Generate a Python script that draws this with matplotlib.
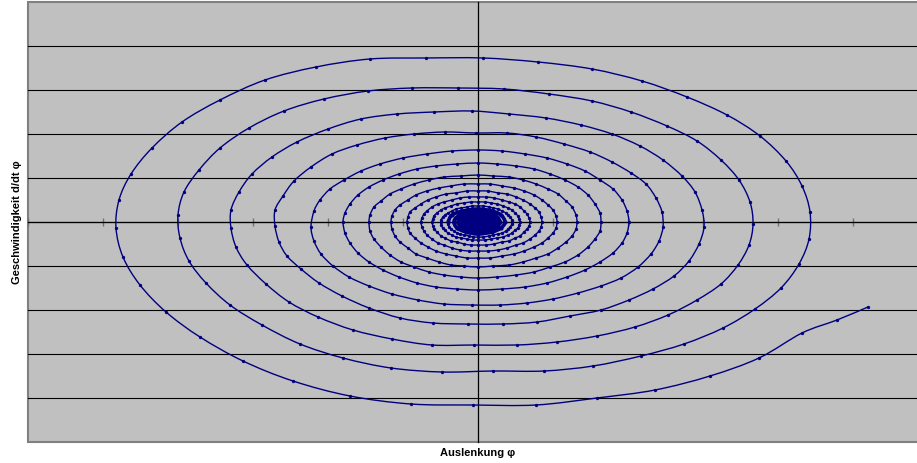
import matplotlib
matplotlib.use("Agg")
import matplotlib.pyplot as plt
from matplotlib.path import Path
from matplotlib.patches import PathPatch
import numpy as np

# Phase portrait of a damped pendulum: deflection (phi) vs. angular velocity (omega)
# Values (arbitrary chart units, one x tick = 75, one y grid step = 44)

turn0_phi = [390, 359, 324, 281, 232, 177, 119, 58, -5, -67, -128, -185, -235, -278, -312, -338, -355, -362]
turn0_om = [-85, -98, -111, -136, -154, -168, -176, -183, -183, -182, -174, -159, -139, -115, -90, -63, -35, -6]

turn1_phi = [-359, -347, -326, -296, -258, -213, -162, -108, -52, 5, 60, 114, 164, 209, 249, 282, 308, 324, 332, 331,
             321, 303, 277, 245, 206, 163, 115, 66, 15, -36, -87, -135, -178, -216, -248, -272, -289, -298]
turn1_om = [22, 48, 74, 100, 122, 142, 155, 163, 164, 164, 160, 153, 141, 125, 107, 86, 61, 36, 10, -17,
            -42, -66, -87, -106, -122, -134, -144, -149, -149, -150, -146, -136, -122, -103, -83, -61, -39, -16]

turn2_phi = [-300, -294, -279, -258, -229, -194, -154, -110, -66, -20, 26, 71, 114, 153, 189, 219, 243, 261, 272, 275,
             271, 260, 243, 219, 190, 157, 119, 79, 39, -4, -46, -86, -125, -160, -189, -212, -231, -242, -247]
turn2_om = [7, 30, 52, 74, 94, 111, 123, 131, 134, 134, 133, 128, 121, 110, 96, 81, 62, 42, 20, -2,
            -23, -43, -62, -78, -93, -105, -114, -120, -123, -123, -123, -117, -108, -95, -80, -62, -43, -25, -6]

turn3_phi = [-247, -239, -226, -206, -181, -150, -117, -81, -44, -6, 31, 68, 103, 134, 162, 185, 204, 217, 224, 226,
             221, 211, 196, 175, 151, 123, 92, 59, 25, -10, -45, -78, -109, -136, -159, -177, -191, -199, -203]
turn3_om = [12, 30, 48, 65, 80, 93, 103, 108, 110, 111, 108, 104, 97, 88, 76, 62, 46, 30, 12, -5,
            -22, -39, -54, -67, -78, -88, -94, -100, -102, -102, -101, -96, -86, -74, -61, -47, -34, -20, -4]

turn4_phi = [-203, -195, -184, -167, -146, -121, -93, -64, -33, -2, 29, 58, 86, 112, 134, 153, 168, 178, 184, 185,
             181, 173, 160, 143, 123, 100, 75, 49, 22, -6, -34, -60, -86, -109, -129, -145, -157, -164, -167]
turn4_om = [12, 26, 41, 55, 68, 77, 84, 88, 90, 89, 89, 85, 78, 70, 60, 49, 38, 24, 10, -5,
            -19, -32, -45, -56, -64, -71, -77, -81, -83, -83, -82, -78, -72, -64, -55, -44, -32, -19, -5]

turn5_phi = [-164, -158, -148, -134, -117, -98, -75, -51, -26, 0, 24, 47, 69, 89, 107, 122, 135, 144, 149, 151,
             149, 144, 135, 122, 107, 89, 69, 47, 24, 0, -21, -42, -61, -79, -95, -109, -120, -128, -133, -135]
turn5_om = [11, 22, 33, 42, 51, 58, 64, 68, 71, 72, 71, 68, 64, 58, 51, 42, 33, 22, 11, 0,
            -11, -21, -31, -40, -48, -55, -61, -65, -67, -68, -67, -65, -61, -55, -48, -40, -31, -21, -11, 0]

turn6_phi = [-133, -128, -120, -109, -95, -79, -61, -42, -21, 0, 19, 38, 56, 72, 87, 100, 110, 117, 122, 123,
             122, 117, 110, 100, 87, 72, 56, 38, 19, 0, -17, -34, -49, -64, -77, -88, -97, -104, -108, -109]
turn6_om = [9, 18, 27, 35, 42, 48, 53, 56, 58, 59, 58, 56, 53, 48, 42, 35, 27, 18, 9, 0,
            -9, -17, -25, -33, -40, -45, -50, -53, -55, -56, -55, -53, -50, -45, -40, -33, -25, -17, -9, 0]

turn7_phi = [-108, -104, -97, -88, -77, -64, -49, -34, -17, 0, 15, 31, 45, 58, 70, 80, 88, 94, 98, 99,
             98, 94, 88, 80, 70, 58, 45, 31, 15, 0, -14, -27, -39, -51, -62, -70, -78, -83, -86, -87]
turn7_om = [7, 15, 21, 28, 33, 38, 42, 45, 46, 47, 46, 45, 42, 38, 33, 28, 21, 15, 7, 0,
            -7, -14, -20, -26, -32, -36, -40, -43, -44, -45, -44, -43, -40, -36, -32, -26, -20, -14, -7, 0]

turn8_phi = [-86, -83, -78, -70, -62, -51, -39, -27, -14, 0, 12, 24, 36, 46, 56, 64, 70, 75, 78, 79,
             78, 75, 70, 64, 56, 46, 36, 24, 12, 0, -11, -22, -32, -42, -50, -57, -63, -68, -70, -71]
turn8_om = [6, 12, 17, 22, 27, 31, 34, 36, 38, 38, 38, 36, 34, 31, 27, 22, 17, 12, 6, 0,
            -6, -11, -16, -21, -25, -29, -32, -34, -36, -36, -36, -34, -32, -29, -25, -21, -16, -11, -6, 0]

turn9_phi = [-70, -68, -63, -57, -50, -42, -32, -22, -11, 0, 10, 20, 29, 38, 45, 52, 57, 61, 63, 64,
             63, 61, 57, 52, 45, 38, 29, 20, 10, 0, -9, -18, -26, -34, -40, -46, -51, -54, -56, -57]
turn9_om = [5, 10, 14, 18, 22, 25, 28, 29, 31, 31, 31, 29, 28, 25, 22, 18, 14, 10, 5, 0,
            -5, -9, -13, -17, -21, -23, -26, -28, -29, -29, -29, -28, -26, -23, -21, -17, -13, -9, -5, 0]

turn10_phi = [-56, -54, -51, -46, -40, -34, -26, -18, -9, 0, 8, 16, 24, 31, 37, 42, 46, 49, 51, 52,
              51, 49, 46, 42, 37, 31, 24, 16, 8, 0, -7, -14, -21, -27, -33, -37, -41, -44, -45, -46]
turn10_om = [4, 8, 11, 15, 18, 20, 22, 24, 25, 25, 25, 24, 22, 20, 18, 15, 11, 8, 4, 0,
             -4, -7, -10, -14, -16, -19, -20, -22, -23, -23, -23, -22, -20, -19, -16, -14, -10, -7, -4, 0]

turn11_phi = [-45, -44, -41, -37, -33, -27, -21, -14, -7, 0, 7, 13, 19, 25, 30, 34, 37, 40, 41, 42,
              41, 40, 37, 34, 30, 25, 19, 13, 7, 0, -6, -11, -17, -22, -26, -30, -33, -35, -37, -37]
turn11_om = [3, 6, 9, 12, 14, 16, 18, 19, 20, 20, 20, 19, 18, 16, 14, 12, 9, 6, 3, 0,
             -3, -6, -8, -11, -13, -15, -16, -17, -18, -18, -18, -17, -16, -15, -13, -11, -8, -6, -3, 0]

turn12_phi = [-37, -35, -33, -30, -26, -22, -17, -11, -6, 0, 5, 11, 15, 20, 24, 28, 30, 32, 34, 34,
              34, 32, 30, 28, 24, 20, 15, 11, 5, 0, -5, -9, -14, -18, -21, -24, -27, -29, -30, -30]
turn12_om = [2, 5, 7, 9, 11, 13, 14, 15, 16, 16, 16, 15, 14, 13, 11, 9, 7, 5, 2, 0,
             -2, -5, -7, -9, -11, -12, -13, -14, -15, -15, -15, -14, -13, -12, -11, -9, -7, -5, -2, 0]

core_phi = [-26, -15, 0, 14, 23, 27, 23, 14, 0, -12, -21, -24,
            -21, -12, 0, 11, 19, 22, 19, 11, 0, -10, -17, -20,
            -17, -10, 0, 9, 16, 18, 16, 9, 0, -8, -14, -16,
            -14, -8, 0, 8, 13, 15, 13, 8, 0, -7, -11, -13,
            -11, -7, 0, 6, 10, 12, 10, 6, 0, -6, -10, -11,
            -10, -6, 0, 5, 9, 10, 9, 5, 0, -5, -8, -9,
            -8, -5, 0, 4, 7, 8, 7, 4, 0, -4, -6, -7,
            -6, -4, 0, 3, 5, 6, 5, 3, 0, -3, -5, -5,
            -4, -2, 0, 2, 3, 4, 3, 2, 0, -2, -3, -3]
core_om = [7, 11, 13, 11, 7, 0, -6, -10, -12, -10, -6, 0,
           5, 9, 10, 9, 5, 0, -5, -9, -10, -9, -5, 0,
           4, 7, 8, 7, 4, 0, -4, -7, -8, -7, -4, 0,
           4, 6, 7, 6, 4, 0, -3, -5, -6, -5, -3, 0,
           3, 4, 5, 4, 3, 0, -3, -4, -5, -4, -3, 0,
           2, 3, 4, 3, 2, 0, -2, -3, -4, -3, -2, 0,
           2, 3, 3, 3, 2, 0, -2, -3, -3, -3, -2, 0,
           1, 2, 2, 2, 1, 0, -1, -2, -2, -2, -1, 0,
           1, 1, 1, 1, 1, 0, -1, -1, -1, -1, -1, 0]

x_label = "Auslenkung φ"
y_label = "Geschwindigkeit d/dt φ"

NAVY = "#000080"

phi_outer = np.concatenate([turn0_phi, turn1_phi, turn2_phi, turn3_phi, turn4_phi, turn5_phi, turn6_phi,
                            turn7_phi, turn8_phi, turn9_phi, turn10_phi, turn11_phi, turn12_phi]).astype(float)
om_outer = np.concatenate([turn0_om, turn1_om, turn2_om, turn3_om, turn4_om, turn5_om, turn6_om,
                           turn7_om, turn8_om, turn9_om, turn10_om, turn11_om, turn12_om]).astype(float)
phi_core = np.concatenate([phi_outer[-1:], core_phi]).astype(float)
om_core = np.concatenate([om_outer[-1:], core_om]).astype(float)


def smooth_path(x, y):
    """Smoothed line through every data point (like a spreadsheet 'smoothed line')."""
    P = np.column_stack([x, y])
    n = len(P)
    verts = [P[0]]
    codes = [Path.MOVETO]
    for i in range(n - 1):
        p0 = P[i - 1] if i > 0 else P[i]
        p1, p2 = P[i], P[i + 1]
        p3 = P[i + 2] if i + 2 < n else P[i + 1]
        c1 = p1 + (p2 - p0) / 6.0
        c2 = p2 - (p3 - p1) / 6.0
        verts += [c1, c2, p2]
        codes += [Path.CURVE4] * 3
    return Path(np.array(verts), codes)


W, H = 917, 464
fig = plt.figure(figsize=(W / 100, H / 100), dpi=100)
fig.patch.set_facecolor("white")
# plot area extends slightly past the right edge of the picture (as in the reference)
ax = fig.add_axes([28 / W, 21 / H, 900 / W, 440 / H])
ax.set_xlim(-450, 450)
ax.set_ylim(-220, 220)
ax.set_facecolor("#C0C0C0")
ax.patch.set_edgecolor("#808080")
ax.patch.set_linewidth(1.5)

for s in ("top", "right"):
    ax.spines[s].set_visible(False)
ax.spines["bottom"].set_position(("data", 0))
ax.spines["left"].set_position(("data", 0))
for s in ("bottom", "left"):
    ax.spines[s].set_color("black")
    ax.spines[s].set_linewidth(0.9)

ax.set_xticks(np.arange(-450, 451, 75))
ax.tick_params(axis="x", direction="inout", length=6, width=1, color="#707070",
               labelbottom=False)
ax.set_yticks(np.arange(-176, 177, 44))
ax.tick_params(axis="y", length=0, labelleft=False)
ax.yaxis.grid(True, color="black", linewidth=0.8)
ax.xaxis.grid(False)
ax.set_axisbelow(True)

ax.add_patch(PathPatch(smooth_path(phi_outer, om_outer), facecolor="none", edgecolor=NAVY,
                       linewidth=1.0, zorder=3))
ax.plot(phi_outer, om_outer, linestyle="none", marker="o", markersize=2.4,
        markeredgewidth=0, color=NAVY, zorder=4)
# the densely wound centre of the spiral
ax.add_patch(PathPatch(smooth_path(phi_core, om_core), facecolor="none", edgecolor=NAVY,
                       linewidth=2.6, zorder=3))
ax.plot(phi_core, om_core, linestyle="none", marker="o", markersize=3.0,
        markeredgewidth=0, color=NAVY, zorder=4)

fig.text(478 / W, 1 - 453 / H, x_label, ha="center", va="center", fontsize=8,
         fontweight="bold", family="Liberation Sans")
fig.text(17 / W, 1 - 222 / H, y_label, ha="center", va="center", rotation=90,
         fontsize=8, fontweight="bold", family="Liberation Sans")

fig.savefig("out.png", dpi=100, facecolor="white")
